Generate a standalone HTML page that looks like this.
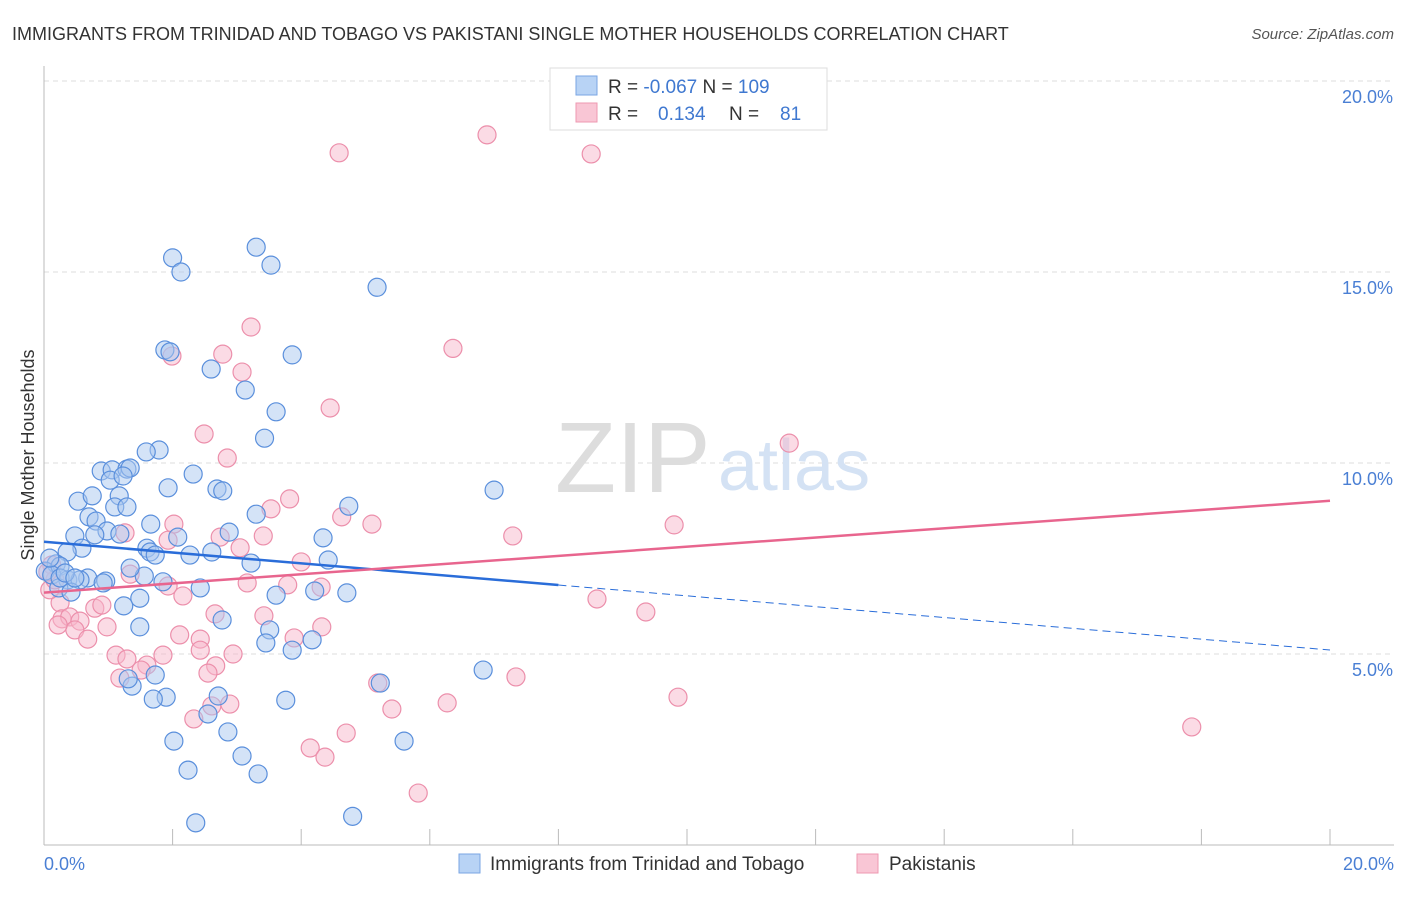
<!DOCTYPE html>
<html><head><meta charset="utf-8"><style>
body{margin:0;background:#fff;font-family:"Liberation Sans",sans-serif}
svg text{font-family:"Liberation Sans",sans-serif}
</style></head><body>
<svg width="1406" height="892">
<text x="12" y="40" font-size="18" fill="#333">IMMIGRANTS FROM TRINIDAD AND TOBAGO VS PAKISTANI SINGLE MOTHER HOUSEHOLDS CORRELATION CHART</text>
<text x="1394" y="39" font-size="15" fill="#555" font-style="italic" text-anchor="end">Source: ZipAtlas.com</text>
<g id="grid"></g>
<text x="555" y="492" font-size="100" fill="#ddd" font-family="Liberation Serif">ZIP</text>
<text x="718" y="490" font-size="72" fill="#d4e2f4">atlas</text>
<g id="marks"></g>
<text transform="translate(34,455) rotate(-90)" font-size="18" fill="#333" text-anchor="middle">Single Mother Households</text>
<text x="44" y="870" font-size="18" fill="#4a7fd4">0.0%</text>
<text x="1394" y="870" font-size="18" fill="#4a7fd4" text-anchor="end">20.0%</text>
<g>
<rect x="550" y="68" width="277" height="62" fill="#fff" stroke="#ddd"/>
<rect x="576" y="76" width="21" height="19" fill="#b8d3f5" stroke="#7aa6e3"/>
<rect x="576" y="103" width="21" height="19" fill="#f9c6d5" stroke="#ee98b1"/>
<text x="608" y="93" font-size="19" fill="#333">R = <tspan fill="#3f78d0">-0.067</tspan>   N = <tspan fill="#3f78d0">109</tspan></text>
<text x="608" y="120" font-size="19" fill="#333">R = <tspan fill="#3f78d0" x="658">0.134</tspan><tspan x="729">N =</tspan><tspan fill="#3f78d0" x="780">81</tspan></text>
</g>
<g>
<rect x="459" y="854" width="21" height="19" fill="#b8d3f5" stroke="#7aa6e3"/>
<text x="490" y="870" font-size="19" fill="#333">Immigrants from Trinidad and Tobago</text>
<rect x="857" y="854" width="21" height="19" fill="#f9c6d5" stroke="#ee98b1"/>
<text x="889" y="870" font-size="19" fill="#333">Pakistanis</text>
</g>
</svg>
<script>
const blueX=[2.0,2.13,3.3,3.53,5.18,1.88,1.96,2.6,3.86,3.13,3.61,3.43,1.79,1.59,0.89,1.06,1.29,1.34,2.32,1.03,1.23,0.53,2.69,2.78,1.17,0.75,1.1,1.29,1.93,7.0,4.74,3.3,0.7,0.81,1.66,2.88,0.98,0.48,1.18,2.08,4.34,1.6,1.65,2.27,2.61,0.59,0.36,3.22,4.42,1.73,0.19,0.02,0.25,0.12,0.37,0.68,0.56,0.96,1.56,1.85,2.43,0.23,0.92,4.21,4.71,0.42,1.34,1.49,3.61,1.24,2.77,1.49,3.51,3.45,4.17,3.86,6.83,1.73,1.37,1.31,5.23,2.71,1.9,1.7,3.76,2.55,2.86,2.02,5.6,3.08,2.24,3.33,4.8,2.36,0.25,0.09,0.33,0.48,0.79];
const blueY=[15.37,15.0,15.65,15.18,14.6,12.96,12.91,12.46,12.83,11.91,11.34,10.65,10.34,10.29,9.79,9.82,9.84,9.87,9.71,9.55,9.66,9.0,9.32,9.27,9.14,9.14,8.85,8.85,9.35,9.29,8.87,8.66,8.59,8.48,8.4,8.19,8.22,8.09,8.14,8.06,8.04,7.77,7.67,7.59,7.67,7.77,7.67,7.38,7.46,7.59,7.36,7.17,7.3,7.07,6.94,6.99,6.94,6.91,7.04,6.89,6.73,6.73,6.86,6.65,6.6,6.62,7.25,6.46,6.54,6.26,5.89,5.71,5.63,5.29,5.37,5.1,4.58,4.45,4.16,4.35,4.24,3.9,3.87,3.82,3.79,3.43,2.96,2.72,2.72,2.33,1.96,1.86,0.75,0.58,6.99,7.51,7.12,6.99,8.12];
const pinkX=[6.89,4.59,8.51,3.22,6.36,2.78,1.99,3.08,4.45,2.49,11.59,2.85,3.82,3.53,4.63,5.1,2.02,7.29,9.8,1.26,2.74,1.93,3.41,4.0,1.34,3.16,1.93,3.79,4.31,2.16,8.6,9.36,0.79,0.9,2.66,3.42,4.32,0.25,0.28,0.4,0.56,0.48,0.68,0.98,2.11,2.43,2.43,3.89,1.12,1.29,1.85,1.6,1.51,2.67,2.94,2.55,7.34,1.18,5.19,6.27,9.86,2.61,2.89,5.41,2.33,4.7,4.14,4.37,17.85,5.82,0.12,0.09,0.22,0.17,0.06,3.05];
const pinkY=[18.59,18.12,18.09,13.56,13.0,12.85,12.8,12.38,11.44,10.76,10.52,10.13,9.06,8.8,8.59,8.4,8.4,8.09,8.38,8.17,8.06,7.98,8.09,7.41,7.09,6.86,6.78,6.81,6.75,6.52,6.44,6.1,6.2,6.28,6.05,6.0,5.71,6.34,5.92,5.97,5.86,5.63,5.39,5.71,5.5,5.39,5.1,5.42,4.97,4.87,4.97,4.71,4.58,4.69,5.0,4.5,4.4,4.37,4.24,3.72,3.87,3.64,3.69,3.56,3.3,2.93,2.54,2.3,3.09,1.36,7.33,6.68,5.76,6.94,7.15,7.78];
const tickVals=[5,10,15,20];
const X0=44,X1=1330,Y0=845,Y20=81;
const sx=v=>X0+(X1-X0)*v/20, sy=v=>Y0-(Y0-Y20)*v/20;
const NS='http://www.w3.org/2000/svg';
function mk(p,t,a){const e=document.createElementNS(NS,t);for(const k in a)e.setAttribute(k,a[k]);p.appendChild(e);return e;}
const g=document.getElementById('grid'),m=document.getElementById('marks'),svg=document.querySelector('svg');
tickVals.forEach(v=>{
 const l=mk(g,'line',{x1:X0,x2:1394,y1:sy(v),y2:sy(v),stroke:'#ddd','stroke-dasharray':'5,4'});
 
 
 const t=mk(g,'text',{x:1393,y:sy(v)+22,'font-size':18,fill:'#4a7fd4','text-anchor':'end'});
 t.textContent=v.toFixed(1)+'%';
 
 
});
const ax=mk(g,'line',{x1:X0,x2:X0,y1:66,y2:Y0,stroke:'#bbb'});


const bx=mk(g,'line',{x1:X0,x2:1394,y1:Y0,y2:Y0,stroke:'#bbb'});


for(let i=0;i<=10;i++){const t=mk(g,'line',{x1:sx(i*2),x2:sx(i*2),y1:Y0,y2:Y0-16,stroke:'#bbb'});
 
 }
function dots(xs,ys,fill,stroke,name){xs.forEach((x,i)=>{const c=mk(m,'circle',{cx:sx(x),cy:sy(ys[i]),r:9,fill:fill,'fill-opacity':0.5,stroke:stroke,'stroke-width':1.2});
 
 });}
dots(pinkX,pinkY,'#f7b8cb','#ec8fab','pakistani-point');
dots(blueX,blueY,'#a9c8f0','#5a8fdc','trinidad-point');
function fit(xs,ys){const n=xs.length;let mx=0,my=0;xs.forEach((x,i)=>{mx+=x;my+=ys[i]});mx/=n;my/=n;let a=0,b=0;xs.forEach((x,i)=>{a+=(x-mx)*(ys[i]-my);b+=(x-mx)**2});const s=a/b;return [s,my-s*mx];}
const [bs,bi]=fit(blueX,blueY),[ps,pi]=fit(pinkX,pinkY);
let l=mk(m,'line',{x1:sx(0),y1:sy(bi),x2:sx(8),y2:sy(bi+bs*8),stroke:'#2a6dd9','stroke-width':2.5});


l=mk(m,'line',{x1:sx(8),y1:sy(bi+bs*8),x2:sx(20),y2:sy(bi+bs*20),stroke:'#2a6dd9','stroke-width':1,'stroke-dasharray':'8,5'});


l=mk(m,'line',{x1:sx(0),y1:sy(pi),x2:sx(20),y2:sy(pi+ps*20),stroke:'#e8658e','stroke-width':2.5});


</script>
</body></html>
